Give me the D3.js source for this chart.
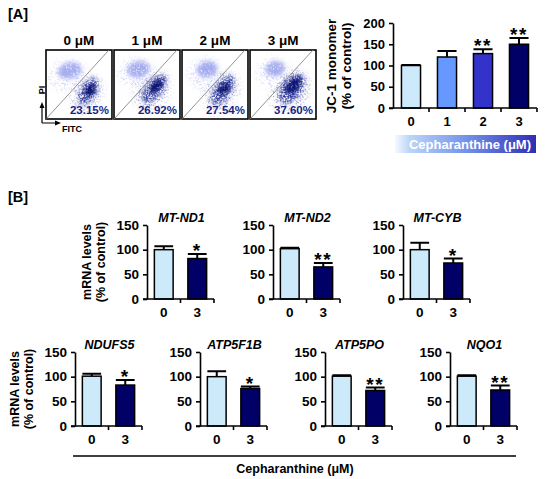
<!DOCTYPE html>
<html><head><meta charset="utf-8">
<script src="https://cdnjs.cloudflare.com/ajax/libs/d3/7.8.5/d3.min.js"></script>
<style>
body{margin:0;background:#fff}
svg{display:block}
text{font-family:Arial,"Liberation Sans",sans-serif;font-weight:bold}
</style>
</head><body>
<svg id="c" width="550" height="479"></svg>
<script>
// ---------- DATA ----------
// Panel A: flow cytometry panels
const flowLabels = ["0 μM", "1 μM", "2 μM", "3 μM"];
const flowPercents = ["23.15%", "26.92%", "27.54%", "37.60%"];
// density readings of the two populations, in fractions of each plot: [cx, cy, rx, ry, angle]
const liveDensity = [
  [0.36, 0.30, 0.18, 0.12, -12],
  [0.37, 0.28, 0.17, 0.12, -12],
  [0.38, 0.28, 0.16, 0.12, -12],
  [0.38, 0.27, 0.15, 0.11, -12]
];
const deadDensity = [
  [0.64, 0.60, 0.22, 0.11, -60],
  [0.61, 0.56, 0.25, 0.12, -52],
  [0.62, 0.58, 0.25, 0.12, -55],
  [0.63, 0.56, 0.26, 0.14, -55]
];
const deadCore = [
  [0.67, 0.58, 0.10, 0.07, -50],
  [0.64, 0.52, 0.12, 0.06, -45],
  [0.64, 0.56, 0.11, 0.06, -50],
  [0.65, 0.52, 0.14, 0.08, -45]
];

// Panel A: JC-1 monomer bar chart
const jcCategories = ["0", "1", "2", "3"];
const jcValues = [100, 120, 128, 150];
const jcErrors = [1, 14, 10, 15];
const jcSig = ["", "", "**", "**"];
const jcTicks = [0, 50, 100, 150, 200];

// Panel B: mRNA levels
const genes = ["MT-ND1", "MT-ND2", "MT-CYB", "NDUFS5", "ATP5F1B", "ATP5PO", "NQO1"];
const doses = ["0", "3"];
const ctrlValues = [100, 102, 100, 101, 100, 101, 101];
const ctrlErrors = [7, 2, 14, 5, 11, 2, 2];
const treatValues = [82, 65, 73, 83, 76, 72, 73];
const treatErrors = [9, 8, 9, 10, 4, 6, 9];
const geneSig = ["*", "**", "*", "*", "*", "**", "**"];
const mrnaTicks = [0, 50, 100, 150];

// ---------- STYLE ----------
const jcColors = ["#cdeafb", "#6699ff", "#3333cc", "#000066"];
const doseColors = ["#cdeafb", "#000066"];
const FS_TICK = 13;

const svg = d3.select("#c");
const defs = svg.append("defs");

function speckFilter(id, blur, k, t, seed, freq) {
  const f = defs.append("filter").attr("id", id)
    .attr("x", "-60%").attr("y", "-60%").attr("width", "220%").attr("height", "220%");
  f.append("feGaussianBlur").attr("in", "SourceGraphic").attr("stdDeviation", blur).attr("result", "b");
  f.append("feTurbulence").attr("type", "fractalNoise").attr("baseFrequency", freq)
    .attr("numOctaves", 2).attr("seed", seed).attr("result", "n");
  f.append("feColorMatrix").attr("in", "n").attr("type", "matrix")
    .attr("values", `0 0 0 0 0  0 0 0 0 0  0 0 0 0 0  ${k} 0 0 0 ${-t}`).attr("result", "d");
  f.append("feComposite").attr("in", "b").attr("in2", "d").attr("operator", "in");
}
speckFilter("fLive", 2.2, 8, 2.2, 3, 1.2);
speckFilter("fDust", 4, 12, 7.0, 7, 1.4);
speckFilter("fDead", 2.8, 8, 3.2, 11, 1.3);
speckFilter("fCore", 1.8, 6, 1.6, 5, 1.4);

const grad = defs.append("linearGradient").attr("id", "gCeph").attr("x1", 0).attr("x2", 1).attr("y1", 0).attr("y2", 0);
[["0%", "#f6f9fe"], ["10%", "#bcd6f8"], ["50%", "#7592ea"], ["100%", "#2e2eb6"]]
  .forEach(([o, c]) => grad.append("stop").attr("offset", o).attr("stop-color", c));

function txt(g, x, y, s, fs, anchor, extra) {
  const t = g.append("text").attr("x", x).attr("y", y).attr("font-size", fs)
    .attr("text-anchor", anchor || "start").text(s);
  if (extra) extra(t);
  return t;
}

// ---------- PANEL A: flow plots ----------
txt(svg, 8, 19, "[A]", 14.5);
const boxBand = d3.scaleBand().domain(flowLabels).range([46, 316]).paddingInner(0.03);
const boxTop = 50, boxH = 69;

flowLabels.forEach((lab, i) => {
  const x0 = boxBand(lab), w = boxBand.bandwidth();
  const sx = d3.scaleLinear().domain([0, 1]).range([x0, x0 + w]);
  const sy = d3.scaleLinear().domain([0, 1]).range([boxTop, boxTop + boxH]);
  const cp = defs.append("clipPath").attr("id", "clip" + i);
  cp.append("rect").attr("x", x0).attr("y", boxTop).attr("width", w).attr("height", boxH);
  const g = svg.append("g").attr("clip-path", `url(#clip${i})`);

  const ell = (gg, d, fill, filt, op) => {
    gg.append("ellipse")
      .attr("cx", sx(d[0])).attr("cy", sy(d[1]))
      .attr("rx", sx(d[2]) - sx(0)).attr("ry", sy(d[3]) - sy(0))
      .attr("transform", `rotate(${d[4]},${sx(d[0])},${sy(d[1])})`)
      .attr("fill", fill).attr("opacity", op).attr("filter", `url(#${filt})`);
  };
  const L = liveDensity[i], D = deadDensity[i];
  ell(g, [L[0] - 0.04, L[1] + 0.06, L[2] * 1.6, L[3] * 1.9, L[4]], "#b3b9f2", "fDust", 0.8);
  ell(g, [D[0] - 0.02, D[1] + 0.04, D[2] * 1.25, D[3] * 1.7, D[4]], "#3b46aa", "fDust", 0.8);
  ell(g, L, "#a6adef", "fLive", 1);
  ell(g, D, "#27309a", "fDead", 1);
  ell(g, deadCore[i], "#0f1672", "fCore", 1);

  svg.append("rect").attr("x", x0).attr("y", boxTop).attr("width", w).attr("height", boxH)
    .attr("fill", "none").attr("stroke", "#000").attr("stroke-width", 1.6);
  svg.append("line").attr("x1", x0).attr("y1", boxTop + boxH).attr("x2", x0 + w - 3).attr("y2", boxTop)
    .attr("stroke", "#7a7a7a").attr("stroke-width", 0.8);
  txt(svg, x0 + w / 2, 45, lab, 13.5, "middle");
  txt(svg, x0 + w - 3, boxTop + boxH - 5, flowPercents[i], 11.5, "end", t => t.attr("fill", "#1a1f86"));
});

// PI / FITC axes indicator
const ax0 = 42, ay0 = 123;
svg.append("path").attr("d", `M${ax0},${ay0} V${ay0 - 17} M${ax0},${ay0} H${ax0 + 15}`)
  .attr("stroke", "#000").attr("stroke-width", 1.2).attr("fill", "none");
svg.append("path").attr("d", `M${ax0 - 2.5},${ay0 - 15} L${ax0},${ay0 - 21} L${ax0 + 2.5},${ay0 - 15} Z`).attr("fill", "#000");
svg.append("path").attr("d", `M${ax0 + 13},${ay0 - 2.5} L${ax0 + 19},${ay0} L${ax0 + 13},${ay0 + 2.5} Z`).attr("fill", "#000");
txt(svg, 0, 0, "PI", 9, "middle", t => t.attr("transform", `translate(${ax0 + 3},90) rotate(-90)`));
txt(svg, ax0 + 20, 132, "FITC", 9, "start");

// ---------- generic bar chart ----------
function barChart(opt) {
  const g = svg.append("g");
  const x = d3.scaleBand().domain(opt.cats).range([opt.x0, opt.x1]);
  const y = d3.scaleLinear().domain([0, opt.max]).range([opt.y0, opt.y1]);
  const bw = x.bandwidth() * opt.barFrac;
  opt.cats.forEach((c, i) => {
    const cx = x(c) + x.bandwidth() / 2;
    g.append("rect").attr("x", cx - bw / 2).attr("y", y(opt.vals[i]))
      .attr("width", bw).attr("height", y(0) - y(opt.vals[i]))
      .attr("fill", opt.colors[i]).attr("stroke", "#000").attr("stroke-width", 1.5);
    const top = y(opt.vals[i] + opt.errs[i]);
    g.append("path").attr("d", `M${cx},${y(opt.vals[i])} V${top} M${cx - bw / 2},${top} H${cx + bw / 2}`)
      .attr("stroke", "#000").attr("stroke-width", 2).attr("fill", "none");
    if (opt.sig[i]) txt(g, cx, top + 3, opt.sig[i], opt.starFs, "middle",
      t => t.attr("font-weight", "normal").attr("letter-spacing", 1.5));
  });
  const ya = g.append("g").attr("transform", `translate(${opt.x0},0)`)
    .call(d3.axisLeft(y).tickValues(opt.ticks).tickSize(4).tickSizeOuter(0).tickPadding(4));
  ya.select(".domain").attr("stroke", "#000").attr("stroke-width", 1.6);
  ya.selectAll(".tick line").attr("stroke", "#000").attr("stroke-width", 1.6);
  ya.selectAll(".tick text").attr("font-family", "Arial,'Liberation Sans',sans-serif")
    .attr("font-weight", "bold").attr("font-size", opt.tickFs).attr("fill", "#000");
  const xa = g.append("g").attr("transform", `translate(0,${y(0)})`)
    .call(d3.axisBottom(x).tickSize(0).tickPadding(opt.labPad));
  xa.select(".domain").remove();
  xa.selectAll(".tick text").attr("font-family", "Arial,'Liberation Sans',sans-serif")
    .attr("font-weight", "bold").attr("font-size", opt.tickFs).attr("fill", "#000");
  g.append("line").attr("x1", opt.x0 - 4).attr("x2", opt.x1).attr("y1", y(0)).attr("y2", y(0))
    .attr("stroke", "#000").attr("stroke-width", 1.6);
  const bounds = opt.cats.slice(1).map(c => x(c)).concat([opt.x1]);
  bounds.forEach(b => g.append("line").attr("x1", b).attr("x2", b).attr("y1", y(0)).attr("y2", y(0) + 4)
    .attr("stroke", "#000").attr("stroke-width", 1.6));
  return { g, x, y };
}

// Panel A JC-1 chart
barChart({
  cats: jcCategories, vals: jcValues, errs: jcErrors, sig: jcSig, colors: jcColors,
  ticks: jcTicks, max: 200, x0: 393, x1: 537, y0: 108, y1: 23, barFrac: 0.53, starFs: 19, labPad: 9, tickFs: 13
});
txt(svg, 0, 0, "JC-1 monomer", 13.5, "middle", t => t.attr("transform", "translate(336,66) rotate(-90)"));
txt(svg, 0, 0, "(% of control)", 13.5, "middle", t => t.attr("transform", "translate(351,66) rotate(-90)"));
svg.append("rect").attr("x", 395).attr("y", 135).attr("width", 141).attr("height", 18).attr("fill", "url(#gCeph)");
txt(svg, 470, 149, "Cepharanthine (μM)", 13, "middle", t => t.attr("fill", "#fff"));

// ---------- PANEL B ----------
txt(svg, 8, 202, "[B]", 14.5);
const rowTopX = [147, 273, 403];
const rowBotX = [75, 200, 325, 450];
const chartW = 67;
genes.forEach((gname, i) => {
  const top = i < 3;
  const x0 = top ? rowTopX[i] : rowBotX[i - 3];
  const y0 = top ? 299 : 426, y1 = top ? 225 : 352;
  barChart({
    cats: doses, vals: [ctrlValues[i], treatValues[i]], errs: [ctrlErrors[i], treatErrors[i]],
    sig: ["", geneSig[i]], colors: doseColors, ticks: mrnaTicks, max: 150,
    x0: x0, x1: x0 + chartW, y0: y0, y1: y1, barFrac: 0.56, starFs: 19, labPad: 8, tickFs: 13.5
  });
  txt(svg, x0 + chartW / 2 + 1, y1 - 3, gname, 12.5, "middle", t => t.attr("font-style", "italic"));
});
[[rowTopX[0], 262], [rowBotX[0], 389]].forEach(([ax, cy]) => {
  txt(svg, 0, 0, "mRNA levels", 12.5, "middle", t => t.attr("transform", `translate(${ax - 56},${cy}) rotate(-90)`));
  txt(svg, 0, 0, "(% of control)", 12.5, "middle", t => t.attr("transform", `translate(${ax - 42},${cy}) rotate(-90)`));
});
svg.append("line").attr("x1", 73).attr("x2", 516).attr("y1", 456).attr("y2", 456)
  .attr("stroke", "#000").attr("stroke-width", 1.5);
txt(svg, 295, 473, "Cepharanthine (μM)", 12.5, "middle");
</script>
</body></html>
